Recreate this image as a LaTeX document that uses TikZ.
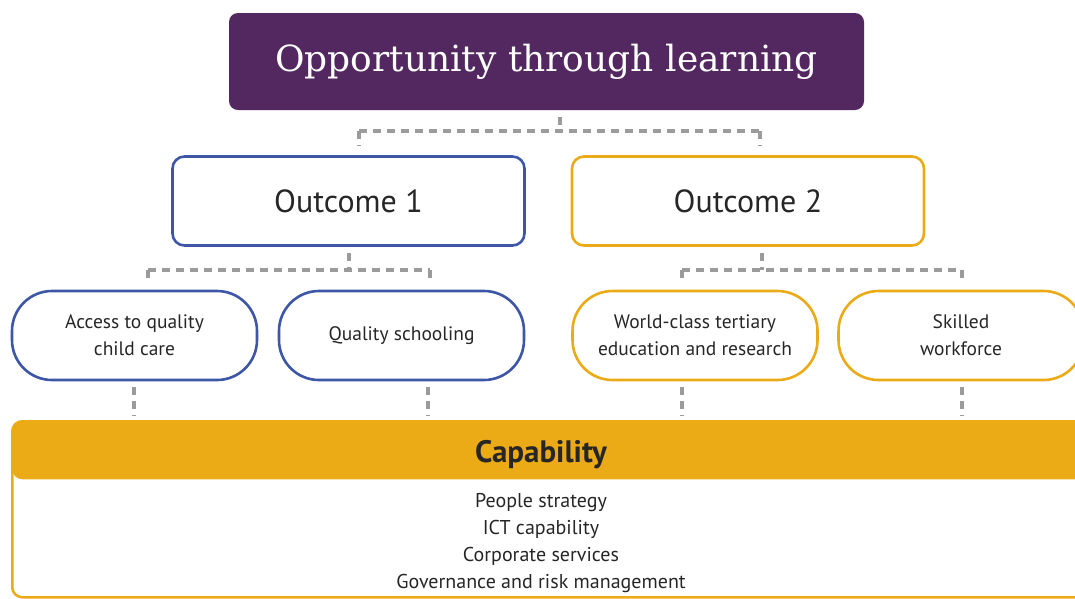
\documentclass[tikz,border=0pt]{standalone}
\usepackage{fontspec}
\setmainfont{PT Sans}
\newfontfamily\titlefont{DejaVu Serif}
\usetikzlibrary{positioning}
\definecolor{plum}{HTML}{53275F}
\definecolor{oneblue}{HTML}{3D56A6}
\definecolor{gold}{HTML}{EAAB16}
\definecolor{dashgrey}{HTML}{9B9B9B}
\definecolor{ink}{HTML}{262626}
\tikzset{
    mytitle/.style={fill=plum,rounded corners=9pt,text=white,minimum width=635pt,minimum height=97pt,font=\titlefont\fontsize{36}{40}\selectfont},
    myoutcome/.style={draw=#1,line width=2.6pt,rounded corners=12pt,minimum width=352pt,minimum height=89pt,text=ink,font=\fontsize{32}{36}\selectfont},
    mypill/.style={draw=#1,line width=2.6pt,rounded corners=40pt,minimum width=245pt,minimum height=89pt,align=center,text=ink,font=\fontsize{19.5}{27}\selectfont},
    mycap/.style={draw=gold,line width=2.5pt,rounded corners=10pt,minimum width=1090pt,minimum height=176pt,
        path picture={\fill[gold] (path picture bounding box.north west) rectangle ([yshift=-58pt]path picture bounding box.north east);}},
    mydash/.style={dashgrey,line width=4pt,dash pattern=on 8pt off 6pt},
    every node/.style={inner sep=0pt}
}
\begin{document}
\begin{tikzpicture}[x=1pt,y=-1pt]
  \useasboundingbox (0,0) rectangle (1075,598);
  \clip (0,0) rectangle (1075,598);
  \node[mytitle] (top) at (546.5,61.5) {Opportunity through learning};
  \node[myoutcome=oneblue] (out1) at (348.5,201) {Outcome 1};
  \node[myoutcome=gold] (out2) at (748,201) {Outcome 2};
  \node[mypill=oneblue] (acc) at (134.5,335.5) {Access to quality\\child care};
  \node[mypill=oneblue] (sch) at (401.5,335.5) {Quality schooling};
  \node[mypill=gold] (ter) at (695,335.5) {World-class tertiary\\education and research};
  \node[mypill=gold] (wrk) at (961,335.5) {Skilled\\workforce};
  \node[mycap,anchor=north west] (cap) at (11,420) {};
  \node[text=ink,font=\bfseries\fontsize{31}{34}\selectfont] (captitle) at (541,455) {Capability};
  \node[text=ink,align=center,font=\fontsize{20}{27}\selectfont] (caplist) at (541,543)
    {People strategy\\ICT capability\\Corporate services\\Governance and risk management};
  % dashed connectors
  \coordinate (b0) at (560,131);
  \coordinate (b1) at (359,131);
  \coordinate (b2) at (760,131);
  \draw[mydash,shorten <=7pt] (top.south -| b0) -- (b0);
  \draw[mydash] (b1) -- (b2);
  \draw[mydash,shorten >=10pt] (b1) -- (b1 |- out1.north);
  \draw[mydash,shorten >=10pt] (b2) -- (b2 |- out2.north);
  \coordinate (m1) at (348.5,270);
  \coordinate (m1l) at (148,270);
  \coordinate (m1r) at (430,270);
  \coordinate (m2) at (762,270);
  \coordinate (m2l) at (682,270);
  \coordinate (m2r) at (962,270);
  \draw[mydash,shorten <=6pt] (out1.south -| m1) -- (m1);
  \draw[mydash,shorten <=6pt] (out2.south -| m2) -- (m2);
  \draw[mydash] (m1l) -- (m1r);
  \draw[mydash] (m2l) -- (m2r);
  \draw[mydash,shorten >=6pt] (m1l) -- (m1l |- acc.north);
  \draw[mydash,shorten >=6pt] (m1r) -- (m1r |- sch.north);
  \draw[mydash,shorten >=6pt] (m2l) -- (m2l |- ter.north);
  \draw[mydash,shorten >=6pt] (m2r) -- (m2r |- wrk.north);
  \foreach \n/\x in {acc/134,sch/428,ter/682,wrk/962}{
    \coordinate (s\n) at (\x,0);
    \draw[mydash,shorten <=6pt,shorten >=4pt] (\n.south -| s\n) -- (cap.north -| s\n);
  }
\end{tikzpicture}
\end{document}
